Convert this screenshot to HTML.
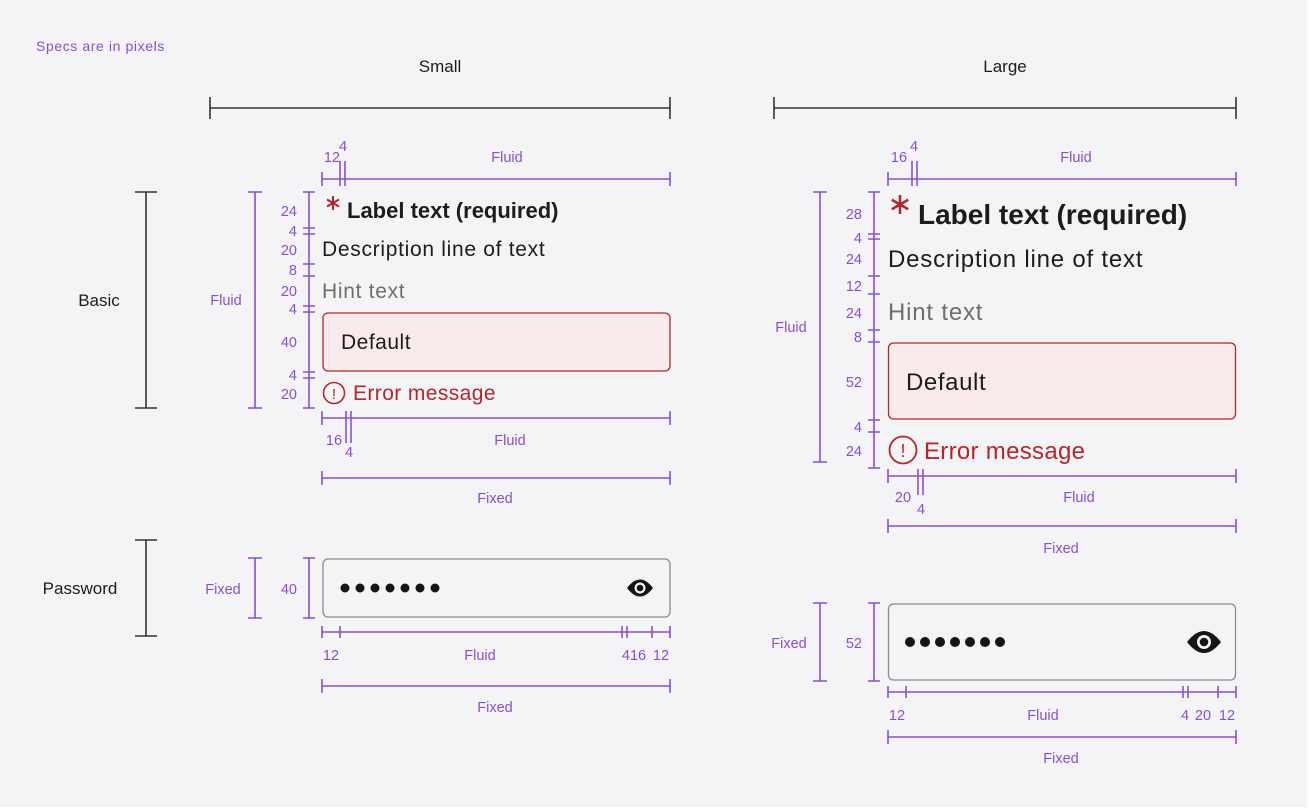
<!DOCTYPE html>
<html><head><meta charset="utf-8"><style>
html,body{margin:0;padding:0;background:#fff;}
svg{display:block;}
text{font-family:"Liberation Sans",sans-serif;}
.p{fill:#8a4fcf;font-size:14.5px;}
.pl{stroke:#8a4fcf;stroke-width:1.6;fill:none;}
.bl{stroke:#333;stroke-width:1.6;fill:none;}
.k{fill:#1c1c1c;}
.ast{stroke:#b3262c;stroke-width:2;fill:none;}
</style></head><body>
<svg width="1309" height="809" viewBox="0 0 1309 809" xmlns="http://www.w3.org/2000/svg">
<rect x="0" y="0" width="1307" height="807" fill="#f4f4f7"/>
<text x="36" y="51" class="p" style="font-size:14px;letter-spacing:0.6px">Specs are in pixels</text>

<!-- headers -->
<text x="440" y="72" text-anchor="middle" class="k" style="font-size:17px">Small</text>
<text x="1005" y="72" text-anchor="middle" class="k" style="font-size:17px">Large</text>
<path class="bl" d="M210 108H670M210 97V119M670 97V119"/>
<path class="bl" d="M774 108H1236M774 97V119M1236 97V119"/>

<!-- row labels -->
<text x="99" y="306" text-anchor="middle" class="k" style="font-size:17px">Basic</text>
<path class="bl" d="M146 192V408M135 192H157M135 408H157"/>
<text x="80" y="594" text-anchor="middle" class="k" style="font-size:17px">Password</text>
<path class="bl" d="M146 540V636M135 540H157M135 636H157"/>

<!-- ===== SMALL BASIC ===== -->
<path class="pl" d="M322 179H670M322 172V186M670 172V186M340 161V186M345 161V186"/>
<text x="332" y="162" text-anchor="middle" class="p">12</text>
<text x="343" y="151" text-anchor="middle" class="p">4</text>
<text x="507" y="162" text-anchor="middle" class="p">Fluid</text>

<path class="pl" d="M255 192V408M248 192H262M248 408H262"/>
<text x="226" y="305" text-anchor="middle" class="p">Fluid</text>
<path class="pl" d="M309 192V408M303 192H315M303 408H315M303 228H315M303 234H315M303 264H315M303 276H315M303 306H315M303 312H315M303 372H315M303 378H315"/>
<g class="p" text-anchor="end">
<text x="297" y="216">24</text><text x="297" y="236">4</text><text x="297" y="255">20</text>
<text x="297" y="275">8</text><text x="297" y="296">20</text><text x="297" y="314">4</text>
<text x="297" y="347">40</text><text x="297" y="380">4</text><text x="297" y="399">20</text>
</g>
<path class="ast" d="M333 196V210M327 199.5L339 206.5M327 206.5L339 199.5"/>
<text x="347" y="218" class="k" style="font-size:22px;font-weight:bold">Label text (required)</text>
<text x="322" y="256" class="k" style="font-size:21px;letter-spacing:0.7px">Description line of text</text>
<text x="322" y="298" fill="#6e6e6e" style="font-size:21px;letter-spacing:0.7px">Hint text</text>
<rect x="323" y="313" width="347" height="58" rx="5" fill="#f9ebec" stroke="#b3262c" stroke-width="1.3"/>
<text x="341" y="349" class="k" style="font-size:21px;letter-spacing:0.5px">Default</text>
<circle cx="334" cy="393" r="10.5" fill="none" stroke="#b3262c" stroke-width="1.6"/>
<text x="334" y="399" text-anchor="middle" fill="#b3262c" style="font-size:15px">!</text>
<text x="353" y="400" fill="#b3262c" style="font-size:21px;letter-spacing:0.4px">Error message</text>

<path class="pl" d="M322 418H670M322 411V425M670 411V425M346 411V443M351 411V443"/>
<text x="334" y="445" text-anchor="middle" class="p">16</text>
<text x="349" y="457" text-anchor="middle" class="p">4</text>
<text x="510" y="445" text-anchor="middle" class="p">Fluid</text>
<path class="pl" d="M322 478H670M322 471V485M670 471V485"/>
<text x="495" y="503" text-anchor="middle" class="p">Fixed</text>

<!-- ===== SMALL PASSWORD ===== -->
<path class="pl" d="M255 558V618M248 558H262M248 618H262"/>
<text x="223" y="594" text-anchor="middle" class="p">Fixed</text>
<path class="pl" d="M309 558V618M303 558H315M303 618H315"/>
<text x="297" y="594" text-anchor="end" class="p">40</text>
<rect x="323" y="559" width="347" height="58" rx="5" fill="#f4f4f7" stroke="#8c8c8c" stroke-width="1.3"/>
<g fill="#151515"><circle cx="345" cy="588" r="4.5"/><circle cx="360" cy="588" r="4.5"/><circle cx="375" cy="588" r="4.5"/><circle cx="390" cy="588" r="4.5"/><circle cx="405" cy="588" r="4.5"/><circle cx="420" cy="588" r="4.5"/><circle cx="435" cy="588" r="4.5"/></g>
<g transform="translate(640,588)"><path d="M-13 0Q0 -17 13 0Q0 17 -13 0Z" fill="#151515"/><circle r="5.5" fill="#f4f4f7"/><circle r="3.3" fill="#151515"/></g>
<path class="pl" d="M322 632H670M322 626V638M340 626V638M622 626V638M627 626V638M652 626V638M670 626V638"/>
<text x="331" y="660" text-anchor="middle" class="p">12</text>
<text x="480" y="660" text-anchor="middle" class="p">Fluid</text>
<text x="634" y="660" text-anchor="middle" class="p">416</text>
<text x="661" y="660" text-anchor="middle" class="p">12</text>
<path class="pl" d="M322 686H670M322 679V693M670 679V693"/>
<text x="495" y="712" text-anchor="middle" class="p">Fixed</text>

<!-- ===== LARGE BASIC ===== -->
<path class="pl" d="M888 179H1236M888 172V186M1236 172V186M912 161V186M917 161V186"/>
<text x="899" y="162" text-anchor="middle" class="p">16</text>
<text x="914" y="151" text-anchor="middle" class="p">4</text>
<text x="1076" y="162" text-anchor="middle" class="p">Fluid</text>

<path class="pl" d="M820 192V462M813 192H827M813 462H827"/>
<text x="791" y="332" text-anchor="middle" class="p">Fluid</text>
<path class="pl" d="M874 192V468M868 192H880M868 468H880M868 234H880M868 239H880M868 276H880M868 294H880M868 330H880M868 342H880M868 420H880M868 432H880"/>
<g class="p" text-anchor="end">
<text x="862" y="219">28</text><text x="862" y="243">4</text><text x="862" y="264">24</text>
<text x="862" y="291">12</text><text x="862" y="318">24</text><text x="862" y="342">8</text>
<text x="862" y="387">52</text><text x="862" y="432">4</text><text x="862" y="456">24</text>
</g>
<path class="ast" style="stroke-width:2.6" d="M900 195V214M891.8 199.7L908.2 209.3M891.8 209.3L908.2 199.7"/>
<text x="918" y="224" class="k" style="font-size:28px;font-weight:bold">Label text (required)</text>
<text x="888" y="267" class="k" style="font-size:24px;letter-spacing:0.8px">Description line of text</text>
<text x="888" y="320" fill="#6e6e6e" style="font-size:24px;letter-spacing:0.8px">Hint text</text>
<rect x="888.5" y="343" width="347" height="76" rx="5" fill="#f9ebec" stroke="#b3262c" stroke-width="1.3"/>
<text x="906" y="390" class="k" style="font-size:24px;letter-spacing:0.6px">Default</text>
<circle cx="903" cy="450" r="13.5" fill="none" stroke="#b3262c" stroke-width="1.8"/>
<text x="903" y="457" text-anchor="middle" fill="#b3262c" style="font-size:18px">!</text>
<text x="924" y="459" fill="#b3262c" style="font-size:24px;letter-spacing:0.3px">Error message</text>

<path class="pl" d="M888 476H1236M888 469V483M1236 469V483M918 469V495M923 469V495"/>
<text x="903" y="502" text-anchor="middle" class="p">20</text>
<text x="921" y="514" text-anchor="middle" class="p">4</text>
<text x="1079" y="502" text-anchor="middle" class="p">Fluid</text>
<path class="pl" d="M888 526H1236M888 519V533M1236 519V533"/>
<text x="1061" y="553" text-anchor="middle" class="p">Fixed</text>

<!-- ===== LARGE PASSWORD ===== -->
<path class="pl" d="M820 603V681M813 603H827M813 681H827"/>
<text x="789" y="648" text-anchor="middle" class="p">Fixed</text>
<path class="pl" d="M874 603V681M868 603H880M868 681H880"/>
<text x="862" y="648" text-anchor="end" class="p">52</text>
<rect x="888.5" y="604" width="347" height="76" rx="5" fill="#f4f4f7" stroke="#8c8c8c" stroke-width="1.3"/>
<g fill="#151515"><circle cx="910" cy="642" r="5"/><circle cx="925" cy="642" r="5"/><circle cx="940" cy="642" r="5"/><circle cx="955" cy="642" r="5"/><circle cx="970" cy="642" r="5"/><circle cx="985" cy="642" r="5"/><circle cx="1000" cy="642" r="5"/></g>
<g transform="translate(1204,642)"><path d="M-17 0Q0 -22 17 0Q0 22 -17 0Z" fill="#151515"/><circle r="7" fill="#f4f4f7"/><circle r="4.3" fill="#151515"/></g>
<path class="pl" d="M888 692H1236M888 686V698M906 686V698M1183 686V698M1188 686V698M1218 686V698M1236 686V698"/>
<text x="897" y="720" text-anchor="middle" class="p">12</text>
<text x="1043" y="720" text-anchor="middle" class="p">Fluid</text>
<text x="1185" y="720" text-anchor="middle" class="p">4</text>
<text x="1203" y="720" text-anchor="middle" class="p">20</text>
<text x="1227" y="720" text-anchor="middle" class="p">12</text>
<path class="pl" d="M888 737H1236M888 730V744M1236 730V744"/>
<text x="1061" y="763" text-anchor="middle" class="p">Fixed</text>
</svg>
</body></html>
